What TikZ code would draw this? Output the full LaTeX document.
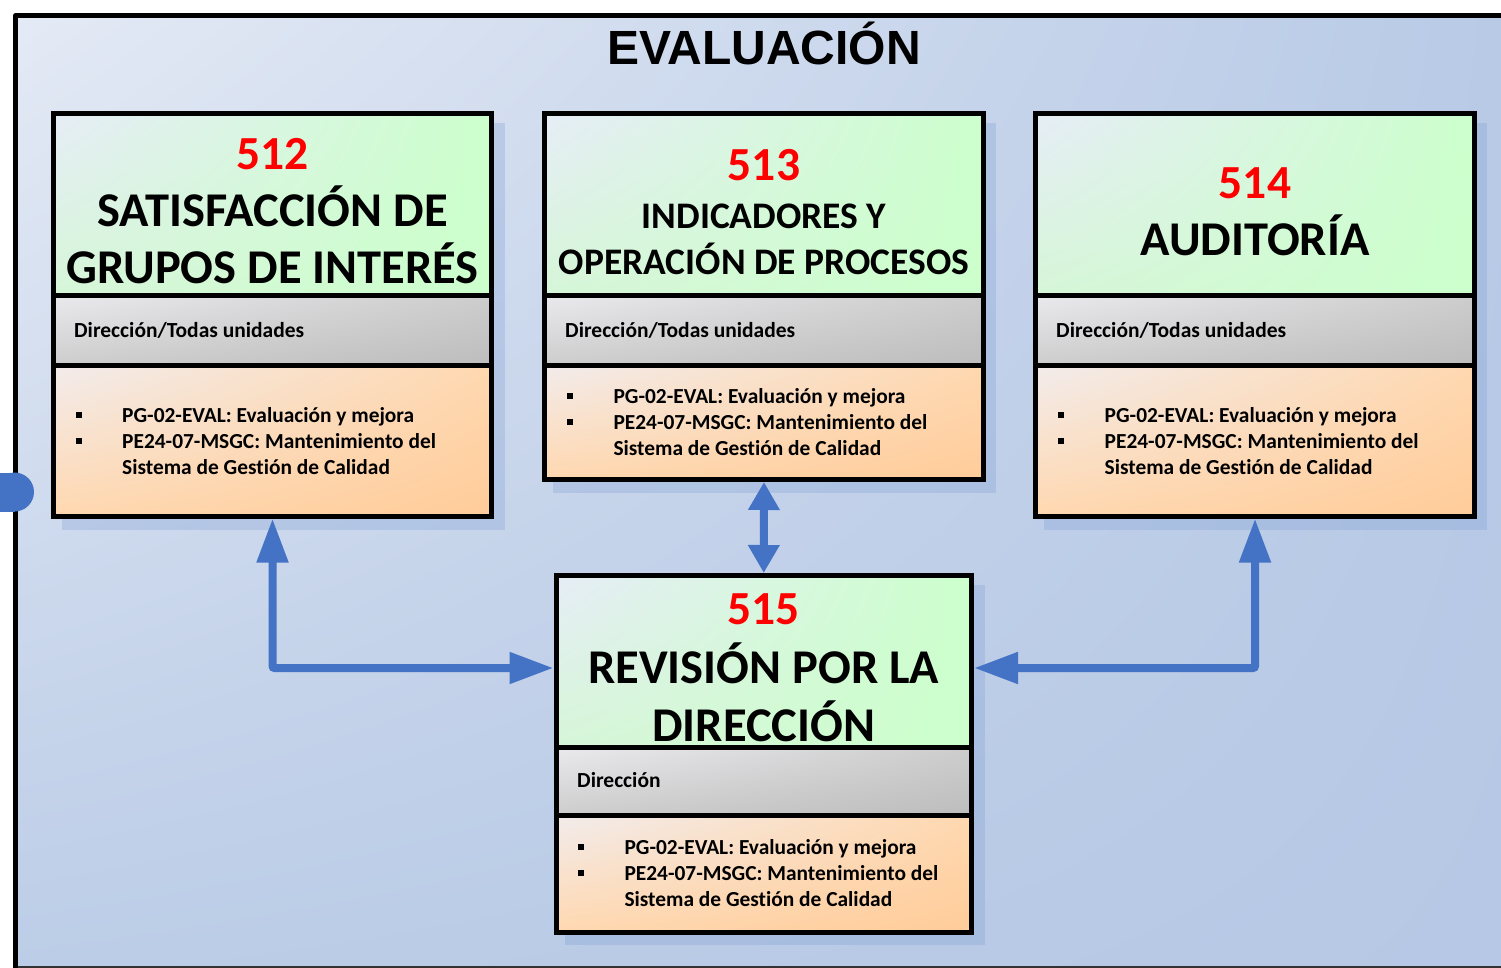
\documentclass[tikz,border=0pt]{standalone}
\usepackage{fontspec}
\setmainfont{Carlito}[Ligatures=NoCommon]
\newfontfamily\titlefont{Liberation Sans}
\usetikzlibrary{arrows.meta,shadings}
\definecolor{bgUL}{HTML}{E4EAF5}
\definecolor{bgUR}{HTML}{B8CAE6}
\definecolor{bgLL}{HTML}{BCCDE7}
\definecolor{bgLR}{HTML}{B6C8E5}
\definecolor{grnUL}{HTML}{E6EDF6}
\definecolor{grnMid}{HTML}{D6F6D8}
\definecolor{grn}{HTML}{CCFFCC}
\definecolor{gryUL}{HTML}{EAEAEE}
\definecolor{gryMid}{HTML}{CDCDCD}
\definecolor{gry}{HTML}{BDBDBD}
\definecolor{orgUL}{HTML}{F2ECEC}
\definecolor{orgMid}{HTML}{FFD8B0}
\definecolor{org}{HTML}{FFCC99}
\definecolor{arrblue}{HTML}{4472C4}
\definecolor{shadowblue}{HTML}{7F9FD4}
\definecolor{numred}{HTML}{FF0000}
\tikzset{
  sec/.style={draw=black, line width=5pt, inner sep=0pt, anchor=north west, shade},
  greensec/.style={sec, upper left=grnUL, upper right=grn, lower left=grnMid, lower right=grn},
  graysec/.style={sec, upper left=gryUL, upper right=gryMid, lower left=gryMid, lower right=gry},
  orangesec/.style={sec, upper left=orgUL, upper right=orgMid, lower left=orgMid, lower right=org},
  boxshadow/.style={fill=shadowblue, fill opacity=0.3, draw=none},
  numtxt/.style={anchor=base, inner sep=0pt, text=numred, font=\fontsize{47.5}{50}\selectfont\bfseries},
  headtxt/.style={anchor=base, inner sep=0pt, font=\fontsize{48.5}{52}\selectfont\bfseries},
  midhead/.style={anchor=base, inner sep=0pt, font=\fontsize{37.5}{42}\selectfont\bfseries},
  roletxt/.style={anchor=base west, inner sep=0pt, font=\fontsize{21.5}{25}\selectfont\bfseries},
  itemtxt/.style={anchor=base west, inner sep=0pt, font=\fontsize{21.4}{25}\selectfont\bfseries},
  bulletsq/.style={fill=black, inner sep=0pt, minimum size=6pt},
  bluearrow/.style={draw=arrblue, line width=8pt, rounded corners=2pt,
     {Triangle[length=44pt,width=30pt]}-{Triangle[length=44pt,width=30pt]}},
  shortarrow/.style={draw=arrblue, line width=8pt,
     {Triangle[length=28pt,width=30pt]}-{Triangle[length=28pt,width=30pt]}},
}
\begin{document}
\begin{tikzpicture}[x=1pt,y=-1pt]
\useasboundingbox (0,0) rectangle (1501,968);
% background frame
\shade[upper left=bgUL, upper right=bgUR, lower left=bgLL, lower right=bgLR] (15.5,15.5) rectangle (1501,966.5);
\draw[black!80, line width=1.5pt] (15.5,967) -- (1501,967);
\draw[black, line width=4.5pt, line join=round] (15.5,968) -- (15.5,15.5) -- (1501,15.5);
% tab
\fill[arrblue] (0,472.5) rectangle (14.5,511.5);
\fill[arrblue] (14.5,492) circle[radius=19.5];
% title
\node[anchor=base, inner sep=0pt, font=\titlefont\fontsize{48}{52}\selectfont\bfseries] (title) at (764,65) {EVALUACIÓN};
% shadows
\fill[boxshadow] (62,123) rectangle (505,530);
\fill[boxshadow] (553,123) rectangle (996,493);
\fill[boxshadow] (1044,123) rectangle (1487,530);
\fill[boxshadow] (565,585) rectangle (985,945);
% Box 512
\node[greensec, minimum width=438pt, minimum height=181.5pt] (Atitle) at (51,111) {};
\node[graysec, minimum width=438pt, minimum height=70pt] (Arole) at (51,292.5) {};
\node[orangesec, minimum width=438pt, minimum height=151pt] (Adoc) at (51,362.5) {};
% Box 513
\node[greensec, minimum width=439pt, minimum height=181.5pt] (Btitle) at (542,111) {};
\node[graysec, minimum width=439pt, minimum height=70pt] (Brole) at (542,292.5) {};
\node[orangesec, minimum width=439pt, minimum height=114.5pt] (Bdoc) at (542,362.5) {};
% Box 514
\node[greensec, minimum width=439pt, minimum height=181.5pt] (Ctitle) at (1033,111) {};
\node[graysec, minimum width=439pt, minimum height=70pt] (Crole) at (1033,292.5) {};
\node[orangesec, minimum width=439pt, minimum height=151pt] (Cdoc) at (1033,362.5) {};
% Box 515
\node[greensec, minimum width=415.5pt, minimum height=172pt] (Dtitle) at (553.5,573) {};
\node[graysec, minimum width=415.5pt, minimum height=67.5pt] (Drole) at (553.5,745) {};
\node[orangesec, minimum width=415.5pt, minimum height=117.5pt] (Ddoc) at (553.5,812.5) {};
% texts 512
\node[numtxt] (A0) at (272.5,170) {512};
\node[headtxt] (A1) at (272.5,227) {SATISFACCIÓN DE};
\node[headtxt] (A2) at (272.5,283.5) {GRUPOS DE INTERÉS};
\node[roletxt] (Ar) at (74,337) {Dirección/Todas unidades};
\node[bulletsq] (Ab1) at (78.7,414.7) {};
\node[bulletsq] (Ab2) at (78.7,441.2) {};
\node[itemtxt] (Ai1) at (122,422) {PG-02-EVAL: Evaluación y mejora};
\node[itemtxt] (Ai2) at (122,448.5) {PE24-07-MSGC: Mantenimiento del};
\node[itemtxt] (Ai3) at (122,474.5) {Sistema de Gestión de Calidad};
% texts 513
\node[numtxt] (B0) at (764,181) {513};
\node[midhead] (B1) at (764,229) {INDICADORES Y};
\node[midhead] (B2) at (764,274.5) {OPERACIÓN DE PROCESOS};
\node[roletxt] (Br) at (565,337) {Dirección/Todas unidades};
\node[bulletsq] (Bb1) at (569.7,395.7) {};
\node[bulletsq] (Bb2) at (569.7,422.2) {};
\node[itemtxt] (Bi1) at (613.3,403) {PG-02-EVAL: Evaluación y mejora};
\node[itemtxt] (Bi2) at (613.3,429.5) {PE24-07-MSGC: Mantenimiento del};
\node[itemtxt] (Bi3) at (613.3,455.5) {Sistema de Gestión de Calidad};
% texts 514
\node[numtxt] (C0) at (1255,198.5) {514};
\node[headtxt] (C1) at (1255,256) {AUDITORÍA};
\node[roletxt] (Cr) at (1056,337) {Dirección/Todas unidades};
\node[bulletsq] (Cb1) at (1061.2,414.7) {};
\node[bulletsq] (Cb2) at (1061.2,441.2) {};
\node[itemtxt] (Ci1) at (1104.5,422) {PG-02-EVAL: Evaluación y mejora};
\node[itemtxt] (Ci2) at (1104.5,448.5) {PE24-07-MSGC: Mantenimiento del};
\node[itemtxt] (Ci3) at (1104.5,474.5) {Sistema de Gestión de Calidad};
% texts 515
\node[numtxt] (D0) at (763.75,624.5) {515};
\node[headtxt] (D1) at (763.75,683) {REVISIÓN POR LA};
\node[headtxt] (D2) at (763.75,741) {DIRECCIÓN};
\node[roletxt] (Dr) at (577,787) {Dirección};
\node[bulletsq] (Db1) at (580.7,846.7) {};
\node[bulletsq] (Db2) at (580.7,873.2) {};
\node[itemtxt] (Di1) at (624.3,854) {PG-02-EVAL: Evaluación y mejora};
\node[itemtxt] (Di2) at (624.3,880.5) {PE24-07-MSGC: Mantenimiento del};
\node[itemtxt] (Di3) at (624.3,906.5) {Sistema de Gestión de Calidad};
% connectors
\coordinate (Lcorner) at (272.5,668);
\coordinate (Rcorner) at (1255,668);
\draw[bluearrow] (Adoc.south) -- (Lcorner) -- (Lcorner -| Dtitle.west);
\draw[bluearrow] (Cdoc.south) -- (Rcorner) -- (Rcorner -| Dtitle.east);
\draw[shortarrow] (Bdoc.south) -- (Dtitle.north);
\end{tikzpicture}
\end{document}
